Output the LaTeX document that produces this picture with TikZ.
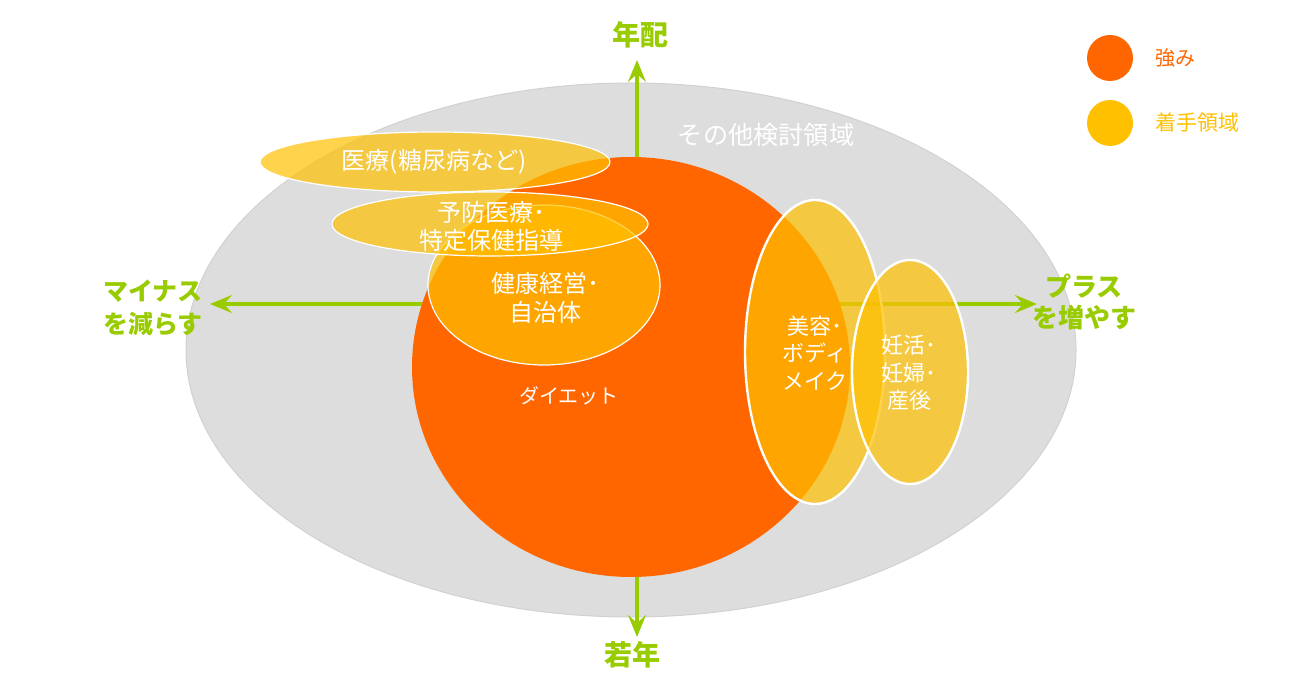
\documentclass[tikz,border=0pt]{standalone}
\usepackage{fontspec}
\setmainfont{Noto Sans CJK JP}
\usetikzlibrary{arrows.meta, positioning}

\definecolor{strength}{HTML}{FF6600}
\definecolor{focus}{HTML}{FFC000}
\definecolor{axisgreen}{HTML}{99CC00}
\definecolor{othergrey}{HTML}{DDDDDD}

\begin{document}
\begin{tikzpicture}[x=0.5pt, y=-0.5pt,
        axis_arrow/.style={axisgreen, line width=1.6pt, -{Stealth[length=11pt, width=9pt, inset=4pt]}},
        axis_label/.style={text=axisgreen, font=\fontsize{13}{15.5}\selectfont\bfseries, align=center, inner sep=0pt},
        area_label/.style={text=white, font=\fontsize{12}{14.5}\selectfont, align=center, inner sep=0pt},
        small_label/.style={text=white, font=\fontsize{11}{13.8}\selectfont, align=center, inner sep=0pt},
        focus_area/.style={fill=focus, fill opacity=0.7, draw=white, line width=0.6pt},
        legend_key/.style={circle, minimum size=23pt, inner sep=0pt},
        legend_label/.style={font=\fontsize{10}{12}\selectfont, inner sep=0pt, right=11pt of #1}]

        \useasboundingbox (0,0) rectangle (1300,673);

        % Other areas
        \fill[othergrey, draw=black!18, line width=0.5pt] (631,350) ellipse [x radius=445, y radius=267];

        % Axes (drawn below the circle)
        \coordinate (origin) at (637,304);
        \coordinate (axis_top) at (637,60);
        \coordinate (axis_bottom) at (637,637);
        \coordinate (axis_left) at (210,304);
        \coordinate (axis_right) at (1037,304);
        \draw[axis_arrow] (origin) -- (axis_top);
        \draw[axis_arrow] (origin) -- (axis_bottom);
        \draw[axis_arrow] (origin) -- (axis_left);
        \draw[axis_arrow] (origin) -- (axis_right);

        % Strength
        \fill[strength] (631,367) ellipse [x radius=219, y radius=210];

        % Focus areas
        \path[focus_area] (544,285) ellipse [x radius=116, y radius=80];
        \path[focus_area] (435,162) ellipse [x radius=175, y radius=30];
        \path[focus_area] (490,224) ellipse [x radius=158, y radius=32];
        \path[focus_area, line width=1.2pt] (815,352) ellipse [x radius=70, y radius=152];
        \path[focus_area, line width=1.2pt] (910,372) ellipse [x radius=58, y radius=112];

        % Area labels
        \node[area_label, font=\fontsize{12.6}{14.5}\selectfont] (other_label) at (766,135) {その他検討領域};
        \node[area_label] (medical_label) at (434,162) {医療(糖尿病など)};
        \node[area_label, font=\fontsize{12}{14}\selectfont] (prevent_label) at (491,226) {予防医療･\\特定保健指導};
        \node[area_label] (health_label) at (545,298) {健康経営･\\自治体};
        \node[small_label, font=\fontsize{10}{12}\selectfont] (diet_label) at (569,396) {ダイエット};
        \node[small_label] (beauty_label) at (815,353) {美容･\\ボディ\\メイク};
        \node[small_label] (birth_label) at (909,373) {妊活･\\妊婦･\\産後};

        % Axis labels
        \node[axis_label, font=\fontsize{14}{16}\selectfont\bfseries] (older_label) at (640,35) {年配};
        \node[axis_label, font=\fontsize{14}{16}\selectfont\bfseries] (younger_label) at (632,655) {若年};
        \node[axis_label, font=\fontsize{12.5}{16.5}\selectfont\bfseries] (minus_label) at (153,308) {マイナス\\を減らす};
        \node[axis_label] (plus_label) at (1084,302) {プラス\\を増やす};

        % Legend
        \node[legend_key, fill=strength] (key_strength) at (1110,58) {};
        \node[legend_key, fill=focus] (key_focus) at (1110,123) {};
        \node[legend_label=key_strength, text=strength] (strength_label) {強み};
        \node[legend_label=key_focus, text=focus, font=\fontsize{10.5}{12}\selectfont] (focus_label) {着手領域};
    \end{tikzpicture}
\end{document}
